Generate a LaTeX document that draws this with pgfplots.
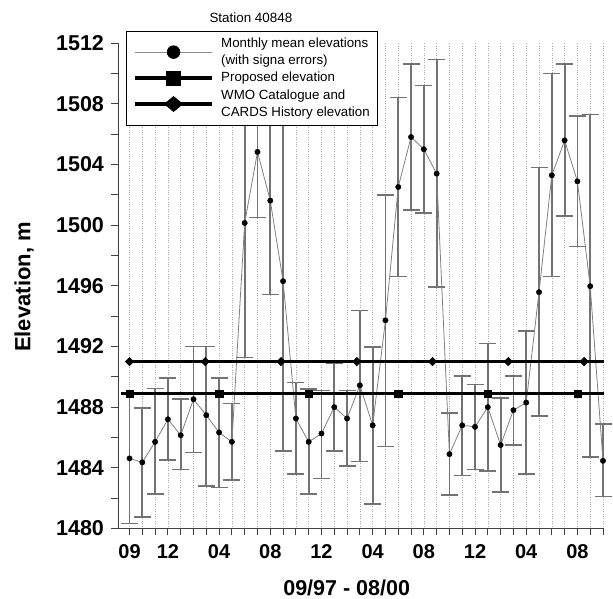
\documentclass[border=0pt]{standalone}
\usepackage{fontspec}
\setmainfont{Liberation Sans}
\usepackage{pgfplots}
\pgfplotsset{compat=1.18}
\usepackage{pgfplotstable}
\pgfplotstableread{
x y ep em
0 1484.62 4.34 4.28
1 1484.36 3.57 3.62
2 1485.71 3.53 3.44
3 1487.20 2.70 2.70
4 1486.15 2.37 2.25
5 1488.52 3.48 3.52
6 1487.47 4.53 4.67
7 1486.33 3.57 3.63
8 1485.71 2.53 2.51
9 1500.14 8.86 8.88
10 1504.82 4.28 4.32
11 1501.61 6.69 6.18
12 1496.30 11.50 11.18
13 1487.25 2.37 3.66
14 1485.71 3.47 3.44
15 1486.26 2.84 2.96
16 1488.00 2.87 2.88
17 1487.25 1.85 3.15
18 1489.44 4.93 5.02
19 1486.80 5.16 5.20
20 1493.72 8.28 8.32
21 1502.51 5.89 5.91
22 1505.80 4.80 4.80
23 1505.00 4.20 4.20
24 1503.39 7.51 7.49
25 1484.90 2.70 2.70
26 1486.80 3.25 3.30
27 1486.70 2.80 2.80
28 1488.00 4.20 4.20
29 1485.50 3.10 3.10
30 1487.80 2.25 2.30
31 1488.30 4.70 4.70
32 1495.58 8.22 8.18
33 1503.28 6.72 6.68
34 1505.58 5.02 4.98
35 1502.88 4.32 4.28
36 1495.97 11.33 11.27
37 1484.46 2.44 2.36
}\monthly
\begin{document}
\begin{tikzpicture}
\path[use as bounding box] (-118pt,-70.5pt) rectangle (495pt,528.5pt);
\begin{axis}[
  at={(0pt,0pt)}, anchor=south west,
  scale only axis, width=485pt, height=485.5pt,
  xmin=-0.9, xmax=37, ymin=1480, ymax=1512,
  axis lines*=left,
  axis line style={-, draw=black!75, line width=0.9pt},
  clip=false,
  tick align=outside, major tick length=7pt, minor tick length=7pt,
  tick style={draw=black!75, line width=0.9pt},
  xtick={0,3,7,11,15,19,23,27,31,35},
  xticklabels={09,12,04,08,12,04,08,12,04,08},
  minor xtick={0,...,37},
  ytick={1480,1484,...,1512},
  minor ytick={1482,1486,...,1510},
  xmajorgrids, xminorgrids,
  major grid style={dotted, black!35, line width=0.6pt},
  minor grid style={dotted, black!35, line width=0.6pt},
  /pgf/number format/assume math mode=true,
  /pgf/number format/1000 sep={},
  yticklabel style={font=\bfseries\fontsize{21.5}{21.5}\selectfont, xshift=-3.5pt},
  xticklabel style={font=\bfseries\fontsize{20}{20}\selectfont, yshift=-6pt},
  xlabel={09/97 - 08/00},
  xlabel style={at={(axis description cs:0.4715,-0.1215)}, anchor=center, font=\bfseries\fontsize{21.5}{22}\selectfont},
  ylabel={Elevation, m},
  ylabel style={at={(axis description cs:-0.1938,0.4974)}, anchor=center, font=\bfseries\fontsize{22}{22}\selectfont},
  title={Station 40848},
  title style={at={(axis description cs:0.274,1.0391)}, anchor=center, yshift=0pt, font=\fontsize{13.4}{15}\selectfont},
  legend cell align=left,
  legend style={at={(axis description cs:0.0165,1.0253)}, anchor=north west,
    draw=black, line width=0.8pt, fill=white,
    inner xsep=7pt, inner ysep=5.5pt, row sep=3pt, column sep=7pt,
    font=\fontsize{13.3}{15}\selectfont,
    nodes={inner sep=0.5pt, text height=10pt, text depth=3pt}},
]
% error bars (drawn first, below the marks)
\addplot[forget plot, only marks, mark=none,
  error bars/.cd, y dir=both, y explicit,
  error bar style={color=black!55, line width=1.8pt},
  error mark options={rotate=90, mark size=8.5pt, line width=1.6pt, draw=black!55}]
  table[x=x, y=y, y error plus=ep, y error minus=em] {\monthly};
\addplot[color=black!50, line width=0.8pt, mark=*, mark size=2.7pt,
  mark options={fill=black, draw=black, solid, line width=0.4pt},
  legend image code/.code={
    \path[draw=none, fill=none] (0pt,-3pt) rectangle (77pt,3pt);
    \draw[overlay, black!45, line width=0.6pt] (0pt,-8.5pt) -- (77pt,-8.5pt);
    \fill[overlay, black] (38.5pt,-8.5pt) circle (6.3pt);}]
  table[x=x, y=y] {\monthly};
\addlegendentry{Monthly mean elevations}
\addlegendimage{empty legend}
\addlegendentry{(with signa errors)}
\addplot[black, line width=3.3pt, mark=square*, mark size=3.65pt,
  mark indices={2,3,4,5,6,7},
  mark options={solid, line width=0.4pt, fill=black},
  legend image code/.code={
    \draw[black, line width=3.3pt] (0pt,0pt) -- (77pt,0pt);
    \fill[black] (32.7pt,-5.8pt) rectangle (44.3pt,5.8pt);}]
  coordinates {(-0.65,1488.9) (0,1488.9) (7,1488.9) (14,1488.9) (21,1488.9) (28,1488.9) (35,1488.9) (37.05,1488.9)};
\addlegendentry{Proposed elevation}
\addplot[black, line width=3.3pt, mark=diamond*, mark size=4.3pt,
  mark indices={2,3,4,5,6,7,8},
  mark options={solid, line width=0.4pt, fill=black, xscale=1.33},
  legend image code/.code={
    \path[draw=none, fill=none] (0pt,-3pt) rectangle (77pt,3pt);
    \draw[overlay, black, line width=3.3pt] (0pt,-8.5pt) -- (77pt,-8.5pt);
    \fill[overlay, black] (31.5pt,-8.5pt) -- (38.5pt,-2.65pt) -- (45.5pt,-8.5pt) -- (38.5pt,-14.35pt) -- cycle;}]
  coordinates {(-0.3,1491) (0,1491) (5.92,1491) (11.84,1491) (17.76,1491) (23.68,1491) (29.6,1491) (35.52,1491) (37.05,1491)};
\addlegendentry{WMO Catalogue and}
\addlegendimage{empty legend}
\addlegendentry{CARDS History elevation}
\end{axis}
\end{tikzpicture}
\end{document}
